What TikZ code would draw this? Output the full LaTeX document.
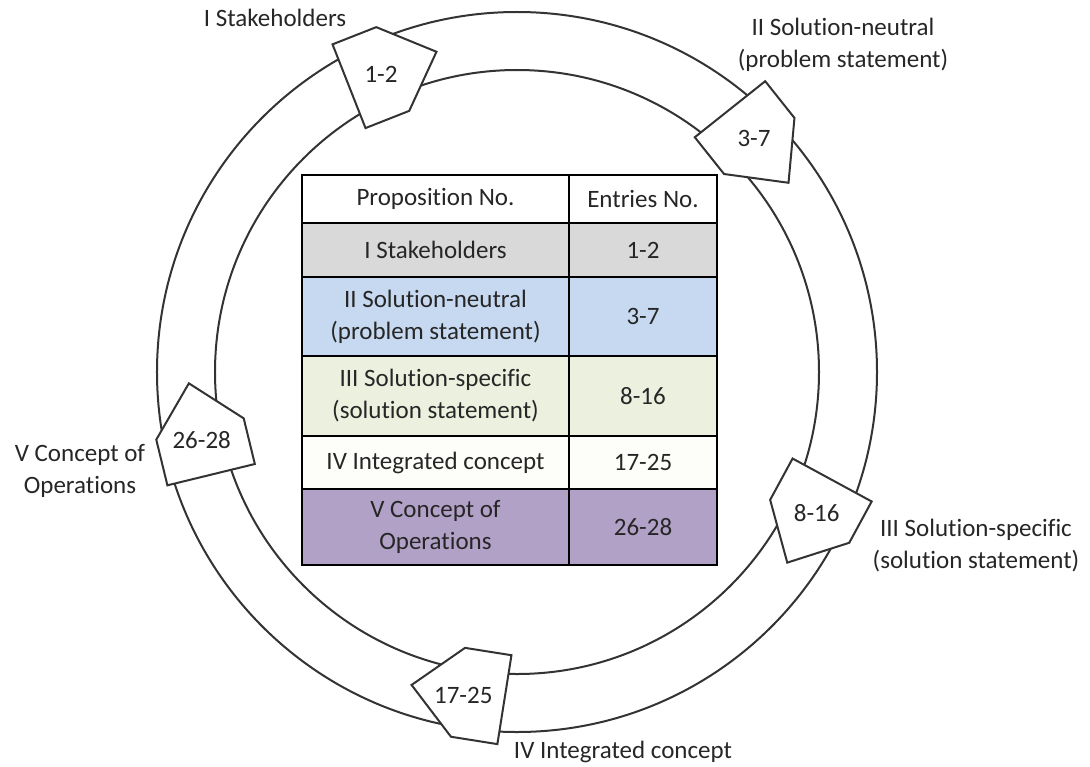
\documentclass[tikz,border=0pt]{standalone}
\usepackage{fontspec}
\setmainfont{Carlito}[Ligatures=NoCommon]
\usepackage{tikz}

\definecolor{linegray}{HTML}{333333}
\definecolor{textgray}{HTML}{262626}
\definecolor{rowone}{HTML}{D9D9D9}
\definecolor{rowtwo}{HTML}{C6D9F1}
\definecolor{rowthree}{HTML}{EBF1DE}
\definecolor{rowfour}{HTML}{FDFDFA}
\definecolor{rowfive}{HTML}{B2A1C7}

\begin{document}
\begin{tikzpicture}[x=0.5pt, y=0.5pt, font=\fontsize{12.5}{16}\selectfont, text=textgray]
	\useasboundingbox (-517,-394) rectangle (573,372);
% draw the two rings
	\draw[line width=1pt, color=linegray] (0,0) circle (360);
	\draw[line width=1pt, color=linegray] (0,0) circle (302);

% draw pentagons on the ring
	\draw[line width=1pt, color=linegray, fill=white, shift={(-124.25,303)}, rotate=21.5]
		(-47,-45) -- (0,-45) -- (47,0) -- (0,45) -- (-47,45) -- cycle;
	\node (p12) at (-136,298) {1-2};
	\draw[line width=1pt, color=linegray, fill=white, shift={(242.25,226)}, rotate=-51.5]
		(-47,-45) -- (0,-45) -- (47,0) -- (0,45) -- (-47,45) -- cycle;
	\node (p37) at (237,234) {3-7};
	\draw[line width=1pt, color=linegray, fill=white, shift={(292.7,-149.3)}, rotate=-118.5]
		(-47,-45) -- (0,-45) -- (47,0) -- (0,45) -- (-47,45) -- cycle;
	\node (p816) at (299.7,-141.3) {8-16};
	\draw[line width=1pt, color=linegray, fill=white, shift={(-59,-320.3)}, rotate=171]
		(-47,-45) -- (0,-45) -- (47,0) -- (0,45) -- (-47,45) -- cycle;
	\node (p1725) at (-53.7,-323) {17-25};
	\draw[line width=1pt, color=linegray, fill=white, shift={(-317,-57)}, rotate=103.7]
		(-47,-45) -- (0,-45) -- (47,0) -- (0,45) -- (-47,45) -- cycle;
	\node (p2628) at (-315.3,-68) {26-28};

% labels outside the ring
	\node (lone) at (-242,354) {I Stakeholders};
	\node[align=center] (ltwo) at (326,327) {II Solution-neutral\\(problem statement)};
	\node[align=center] (lthree) at (459,-174) {III Solution-specific\\(solution statement)};
	\node (lfour) at (106,-380) {IV Integrated concept};
	\node[align=center] (lfive) at (-437,-99) {V Concept of\\Operations};

% draw table rows
	\draw[line width=1pt, fill=white] (-215,197) rectangle (52,149);
	\draw[line width=1pt, fill=white] (52,197) rectangle (200,149);
	\draw[line width=1pt, fill=rowone] (-215,149) rectangle (52,95);
	\draw[line width=1pt, fill=rowone] (52,149) rectangle (200,95);
	\draw[line width=1pt, fill=rowtwo] (-215,95) rectangle (52,16);
	\draw[line width=1pt, fill=rowtwo] (52,95) rectangle (200,16);
	\draw[line width=1pt, fill=rowthree] (-215,16) rectangle (52,-64);
	\draw[line width=1pt, fill=rowthree] (52,16) rectangle (200,-64);
	\draw[line width=1pt, fill=rowfour] (-215,-64) rectangle (52,-117);
	\draw[line width=1pt, fill=rowfour] (52,-64) rectangle (200,-117);
	\draw[line width=1pt, fill=rowfive] (-215,-117) rectangle (52,-193);
	\draw[line width=1pt, fill=rowfive] (52,-117) rectangle (200,-193);

% table texts
	\node (hprop) at (-81.5,173) {Proposition No.};
	\node (hent) at (126,173) {Entries No.};
	\node (tone) at (-81.5,122) {I Stakeholders};
	\node (eone) at (126,122) {1-2};
	\node[align=center] (ttwo) at (-81.5,55.5) {II Solution-neutral\\(problem statement)};
	\node (etwo) at (126,55.5) {3-7};
	\node[align=center] (tthree) at (-81.5,-24) {III Solution-specific\\(solution statement)};
	\node (ethree) at (126,-24) {8-16};
	\node (tfour) at (-81.5,-90.5) {IV Integrated concept};
	\node (efour) at (126,-90.5) {17-25};
	\node[align=center] (tfive) at (-81.5,-155) {V Concept of\\Operations};
	\node (efive) at (126,-155) {26-28};
\end{tikzpicture}
\end{document}
